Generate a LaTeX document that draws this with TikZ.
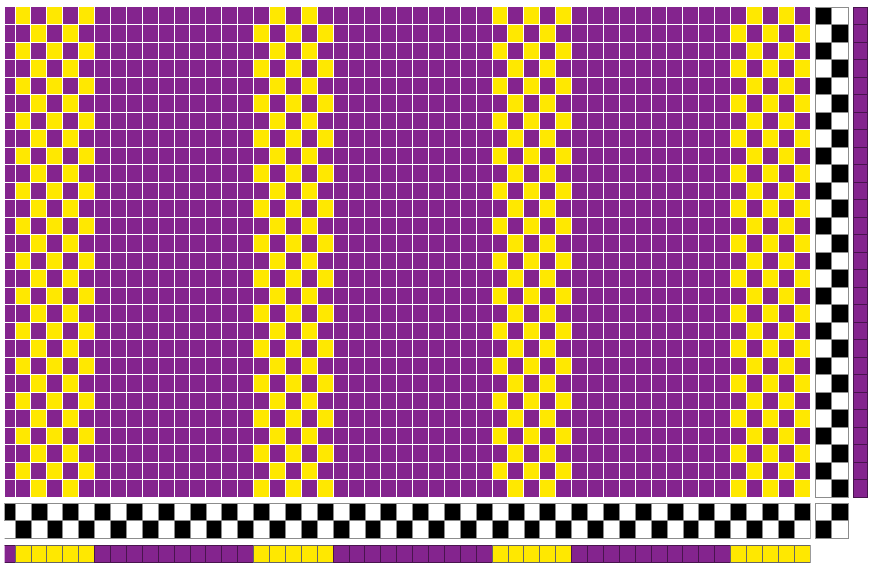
\documentclass[tikz,border=0pt]{standalone}
\usepackage{tikz}

\definecolor{weftpurple}{RGB}{132,36,142}
\definecolor{warpyellow}{RGB}{255,232,0}
\tikzset{
  gridline/.style={white,line width=0.9pt},
  cellline/.style={draw=black!45,line width=0.6pt},
  darkcell/.style={draw=weftpurple!55!black,line width=0.7pt},
}
\def\cw{15.9}
\def\rh{17.5}

\begin{document}
\begin{tikzpicture}[x=1pt,y=-1pt]
  \useasboundingbox (0,0) rectangle (870,566);
  % drawdown
  \begin{scope}
    \clip (5,7) rectangle (810,497);
    \fill[weftpurple] (5,7) rectangle (810,497);
    \foreach \b in {0,15,30,45}{
      \foreach \k in {1,...,5}{
        \foreach \r in {1,3,...,27}{
          \pgfmathsetmacro\xx{15+(\b+\k-1)*\cw}
          \pgfmathsetmacro\yy{7+(\r-1+mod(\b+\k+1,2))*\rh}
          \fill[warpyellow] (\xx,\yy) rectangle ++(\cw,\rh);
        }
      }
    }
    \foreach \c in {1,...,50}
      \draw[gridline] ({15+(\c-1)*\cw},7) -- ++(0,490);
    \foreach \r in {1,...,27}
      \draw[gridline] (5,{7+\r*\rh}) -- ++(805,0);
  \end{scope}
  % treadling and weft colours
  \foreach \r in {1,...,28}{
    \pgfmathsetmacro\yy{7+(\r-1)*\rh}
    \pgfmathtruncatemacro\odd{mod(\r,2)}
    \ifnum\odd=1
      \filldraw[fill=black,cellline] (815,\yy) rectangle ++(16.5,\rh);
      \filldraw[fill=white,cellline] (831.5,\yy) rectangle ++(16.5,\rh);
    \else
      \filldraw[fill=white,cellline] (815,\yy) rectangle ++(16.5,\rh);
      \filldraw[fill=black,cellline] (831.5,\yy) rectangle ++(16.5,\rh);
    \fi
    \filldraw[fill=weftpurple,darkcell] (853,\yy) rectangle ++(14,\rh);
  }
  % threading
  \begin{scope}
    \clip (4.5,502) rectangle (810.5,539);
    \foreach \c in {0,...,50}{
      \pgfmathsetmacro\xx{15+(\c-1)*\cw}
      \pgfmathtruncatemacro\odd{mod(\c,2)}
      \ifnum\odd=0
        \filldraw[fill=black,cellline] (\xx,503) rectangle ++(\cw,\rh);
        \filldraw[fill=white,cellline] (\xx,520.5) rectangle ++(\cw,\rh);
      \else
        \filldraw[fill=white,cellline] (\xx,503) rectangle ++(\cw,\rh);
        \filldraw[fill=black,cellline] (\xx,520.5) rectangle ++(\cw,\rh);
      \fi
    }
  \end{scope}
  % tie-up
  \filldraw[fill=white,cellline] (815,503) rectangle ++(16.5,\rh);
  \filldraw[fill=black,cellline] (831.5,503) rectangle ++(16.5,\rh);
  \filldraw[fill=black,cellline] (815,520.5) rectangle ++(16.5,\rh);
  \filldraw[fill=white,cellline] (831.5,520.5) rectangle ++(16.5,\rh);
  % warp colours
  \begin{scope}
    \clip (4.5,544) rectangle (810.5,563);
    \foreach \c in {0,...,50}{
      \pgfmathsetmacro\xx{15+(\c-1)*\cw}
      \pgfmathtruncatemacro\band{(\c>0 && mod(\c-1,15)<5) ? 1 : 0}
      \ifnum\band=1
        \filldraw[fill=warpyellow,draw=black!60,line width=0.7pt] (\xx,545) rectangle ++(\cw,17);
      \else
        \filldraw[fill=weftpurple,darkcell] (\xx,545) rectangle ++(\cw,17);
      \fi
    }
  \end{scope}
\end{tikzpicture}
\end{document}
